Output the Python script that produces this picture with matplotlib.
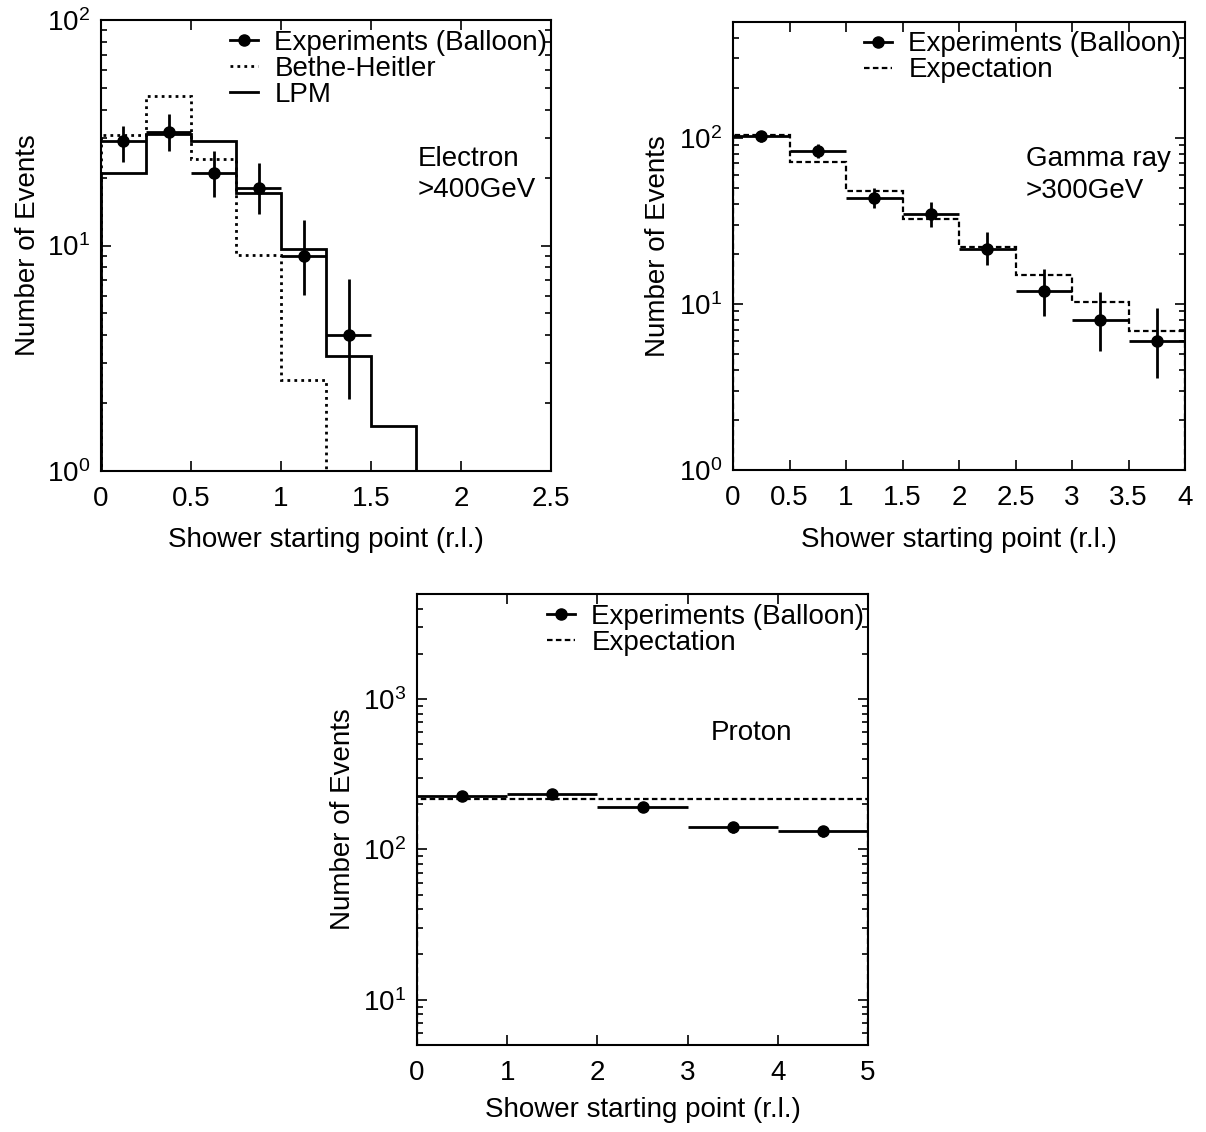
import matplotlib
matplotlib.use("Agg")
import matplotlib.pyplot as plt
import numpy as np
from matplotlib.lines import Line2D
from matplotlib.ticker import LogLocator, FixedLocator, FixedFormatter, NullFormatter, LogFormatterMathtext

plt.rcParams['font.family'] = ['Liberation Sans', 'DejaVu Sans']
plt.rcParams['mathtext.fontset'] = 'custom'
plt.rcParams['mathtext.rm'] = 'Liberation Sans'
plt.rcParams['mathtext.it'] = 'Liberation Sans'
plt.rcParams['font.size'] = 20

# ---------------- Data ----------------
# Electron panel
e_edges = [0, 0.25, 0.5, 0.75, 1.0, 1.25, 1.5, 1.75]
e_lpm = [21, 31.2, 29, 17.1, 9.6, 3.25, 1.58]
e_bh_edges = [0, 0.25, 0.5, 0.75, 1.0, 1.25]
e_bh = [31, 46, 24.2, 9.1, 2.52]
e_x = [0.125, 0.375, 0.625, 0.875, 1.125, 1.375]
e_y = [29, 32, 21, 18, 9, 4]
e_up = [34, 38.3, 26.3, 23.2, 13, 7.1]
e_lo = [23.5, 26.2, 16.4, 13.8, 6.05, 2.09]
e_xticks = [0, 0.5, 1, 1.5, 2, 2.5]
e_xticklabels = ['0', '0.5', '1', '1.5', '2', '2.5']

# Gamma panel
g_edges = [0, 0.5, 1, 1.5, 2, 2.5, 3, 3.5, 4]
g_exp = [104, 71, 48, 32.5, 22, 15, 10.2, 6.9]
g_x = [0.25, 0.75, 1.25, 1.75, 2.25, 2.75, 3.25, 3.75]
g_y = [102, 83, 43.5, 34.5, 21.5, 12, 8, 6]
g_up = [108, 91.5, 50, 41, 27, 16.3, 11.7, 9.4]
g_lo = [94, 75.5, 37.5, 29, 17.2, 8.5, 5.2, 3.6]
g_xticks = [0, 0.5, 1, 1.5, 2, 2.5, 3, 3.5, 4]
g_xticklabels = ['0', '0.5', '1', '1.5', '2', '2.5', '3', '3.5', '4']

# Proton panel
p_edges = [0, 1, 2, 3, 4, 5]
p_exp = [217, 217, 217, 217, 217]
p_x = [0.5, 1.5, 2.5, 3.5, 4.5]
p_y = [226, 232, 191, 140, 132]
p_err = [15, 15, 14, 12, 11.5]
p_xticks = [0, 1, 2, 3, 4, 5]
p_xticklabels = ['0', '1', '2', '3', '4', '5']

W, H = 1206, 1132
fig = plt.figure(figsize=(W / 100, H / 100), dpi=100)

FS = 20
DOT = (0, (1, 1.5))
DASH = (0, (2.5, 1.5))


def make_ax(l, r, t, b):
    return fig.add_axes([l / W, 1 - b / H, (r - l) / W, (b - t) / H])


def style(ax, xlim, ylim, xt, xtl, xlab_y, ylab_x):
    ax.set_yscale('log')
    ax.set_xlim(*xlim)
    ax.set_ylim(*ylim)
    ax.xaxis.set_major_locator(FixedLocator(xt))
    ax.xaxis.set_major_formatter(FixedFormatter(xtl))
    ax.yaxis.set_major_locator(LogLocator(base=10, numticks=10))
    ax.yaxis.set_minor_locator(LogLocator(base=10, subs=np.arange(2, 10), numticks=20))
    ax.yaxis.set_major_formatter(LogFormatterMathtext())
    ax.yaxis.set_minor_formatter(NullFormatter())
    ax.tick_params(which='both', direction='in', top=True, right=True, width=1.2)
    ax.tick_params(which='major', length=7, labelsize=FS)
    ax.tick_params(axis='x', which='major', pad=11)
    ax.tick_params(axis='y', which='major', pad=8)
    ax.tick_params(which='minor', length=4)
    for s in ax.spines.values():
        s.set_linewidth(1.5)
    ax.set_xlabel('Shower starting point (r.l.)', fontsize=FS, va='center')
    ax.set_ylabel('Number of Events', fontsize=FS, va='center')
    ax.xaxis.set_label_coords(0.5, xlab_y)
    ax.yaxis.set_label_coords(ylab_x, 0.5)


def draw_exp(ax, x, y, lo, up, edges):
    x = np.asarray(x); y = np.asarray(y)
    half = np.diff(np.asarray(edges, dtype=float))[:len(x)] / 2
    yerr = [y - np.asarray(lo), np.asarray(up) - y]
    ax.errorbar(x, y, xerr=half, yerr=yerr, fmt='o', color='black', ms=8,
                elinewidth=2, capsize=0)


exp_handle = Line2D([], [], color='black', lw=2, marker='o', ms=8)
bh_handle = Line2D([], [], color='black', lw=2, linestyle=DOT)
lpm_handle = Line2D([], [], color='black', lw=2)
ex_handle = Line2D([], [], color='black', lw=1.6, linestyle=DASH)


def legend(ax, handles, labels, width_px):
    ax.legend(handles, labels, loc='upper right', frameon=False, fontsize=FS,
              handlelength=1.0, handletextpad=0.6, borderaxespad=0.15, borderpad=0.2,
              labelspacing=0.0, bbox_to_anchor=(1 + 6 / width_px, 1))


# Panel 1: Electron
ax1 = make_ax(101, 551, 20, 471)
ax1.stairs(e_bh, e_bh_edges, baseline=1e-3, color='black', lw=2, linestyle=DOT)
ax1.stairs(e_lpm, e_edges, baseline=1e-3, color='black', lw=2)
draw_exp(ax1, e_x, e_y, e_lo, e_up, e_edges)
style(ax1, (0, 2.5), (1, 100), e_xticks, e_xticklabels, -0.153, -0.162)
legend(ax1, [exp_handle, bh_handle, lpm_handle],
       ['Experiments (Balloon)', 'Bethe-Heitler', 'LPM'], 450)
ax1.text(0.704, 0.721, 'Electron\n>400GeV', transform=ax1.transAxes, fontsize=FS,
         va='top', ha='left', linespacing=1.27)

# Panel 2: Gamma
ax2 = make_ax(733, 1185, 21.5, 470)
ax2.stairs(g_exp, g_edges, baseline=1e-3, color='black', lw=1.6, linestyle=DASH)
draw_exp(ax2, g_x, g_y, g_lo, g_up, g_edges)
style(ax2, (0, 4), (1, 500), g_xticks, g_xticklabels, -0.156, -0.166)
legend(ax2, [exp_handle, ex_handle], ['Experiments (Balloon)', 'Expectation'], 452)
ax2.text(0.648, 0.722, 'Gamma ray\n>300GeV', transform=ax2.transAxes, fontsize=FS,
         va='top', ha='left', linespacing=1.27)

# Panel 3: Proton
ax3 = make_ax(417, 868, 594, 1045)
ax3.stairs(p_exp, p_edges, baseline=1e-3, color='black', lw=1.6, linestyle=DASH)
p_lo = np.asarray(p_y) - np.asarray(p_err)
p_up = np.asarray(p_y) + np.asarray(p_err)
draw_exp(ax3, p_x, p_y, p_lo, p_up, p_edges)
style(ax3, (0, 5), (5, 5000), p_xticks, p_xticklabels, -0.144, -0.164)
legend(ax3, [exp_handle, ex_handle], ['Experiments (Balloon)', 'Expectation'], 451)
ax3.text(0.652, 0.721, 'Proton', transform=ax3.transAxes, fontsize=FS,
         va='top', ha='left')

fig.savefig('out.png', dpi=100)
